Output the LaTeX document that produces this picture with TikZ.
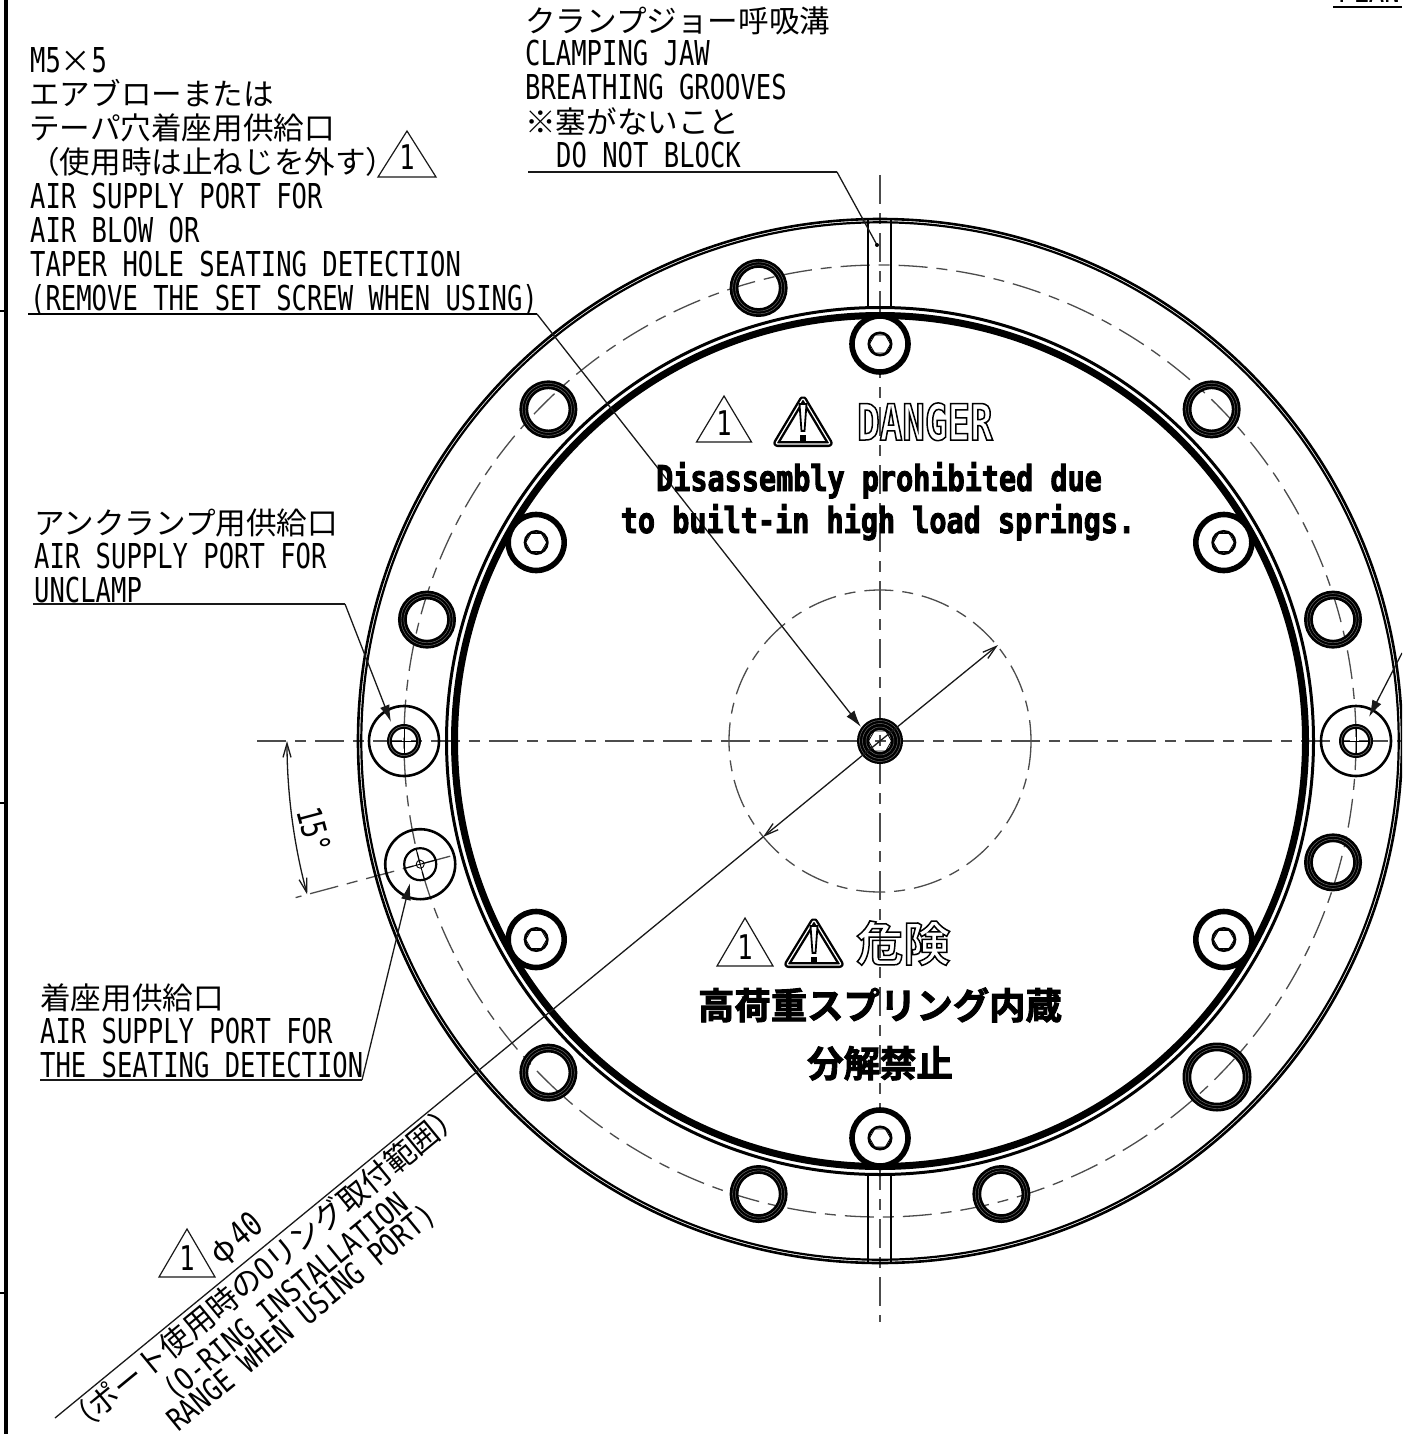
\documentclass[tikz,border=0pt]{standalone}
\usepackage{fontspec}
\usetikzlibrary{arrows.meta,calc,shapes.geometric}
\newfontfamily\latf[FakeStretch=0.745]{DejaVu Sans Mono}
\newfontfamily\latr[FakeStretch=0.82]{DejaVu Sans Mono}
\newfontfamily\latb[FakeStretch=0.8]{DejaVu Sans Mono Bold}
\newfontfamily\latc[FakeStretch=0.75]{DejaVu Sans Mono Bold}
\newfontfamily\jpf{Noto Sans CJK JP}
\newfontfamily\jpb{Noto Sans CJK JP Bold}
\newcommand{\LL}[1]{{\fontsize{34.3}{34}\latf #1}}
\newcommand{\LR}[1]{{\fontsize{31}{34}\latr #1}}
\newcommand{\JJ}[1]{{\fontsize{30.6}{34}\jpf #1}}
\newcommand{\outlinetxt}[1]{\special{pdf:code q 1 Tr 1.5 w}#1\special{pdf:code Q}}
\newcommand{\heavytxt}[1]{\special{pdf:code q 2 Tr 0.9 w}#1\special{pdf:code Q}}
\tikzset{
 txt/.style={inner sep=0pt,anchor=base west},
 thin line/.style={line width=1.3pt,black!90},
 cl/.style={line width=1.3pt,black!70,dash pattern=on 29pt off 9pt on 11pt off 9pt},
 leadarrow/.style={thin line,-{Latex[length=17pt,width=10pt]}},
 barb/.style={thin line,-{Straight Barb[length=14pt,width=8pt]}},
 dimarrow/.style={thin line,{Straight Barb[length=14pt,width=8pt]}-{Straight Barb[length=14pt,width=8pt]}},
 numtri/.style={line width=1.2pt,black!90,line join=miter},
}
\newcommand{\numtriangle}[5]{%
 \draw[numtri] (#2,#3) -- (#2+#4,#5) -- (#2-#4,#5) -- cycle;
 \node[inner sep=0pt,anchor=base] (#1) at (#2,#5-7) {\fontsize{34}{34}\latf 1};}
\newcommand{\warntriangle}[4]{%
 \draw[line width=6pt,black,line join=round,rounded corners=2pt] (#1,#2+5) -- (#1+#3-3.5,#4-3) -- (#1-#3+3.5,#4-3) -- cycle;
 \draw[line width=1.2pt,white,line join=round,rounded corners=2pt] (#1,#2+5) -- (#1+#3-3.5,#4-3) -- (#1-#3+3.5,#4-3) -- cycle;
 \draw[line width=1.8pt,black,fill=white] (#1-3.5,#2+11) -- (#1+3.5,#2+11) -- (#1+1.5,#2+38) -- (#1-1.5,#2+38) -- cycle;
 \fill[black] (#1-3,#2+42) rectangle (#1+3,#2+49);}
\newcommand{\ringhole}[2]{%
 \draw[black,line width=8.8pt] (#1) circle[radius=#2-4.4];
 \draw[black!55,line width=.45pt] (#1) circle[radius=#2-3];
 \draw[black!55,line width=.45pt] (#1) circle[radius=#2-5.8];}
\newcommand{\capscrew}[1]{%
 \draw[white,line width=1pt,fill=white] (#1) circle[radius=28];
 \draw[black,line width=5.6pt] (#1) circle[radius=28];
 \draw[black,line width=2.6pt] (#1) circle[radius=11.2];
 \node[regular polygon,regular polygon sides=6,draw=black,line width=.8pt,minimum size=21pt,inner sep=0pt] at (#1) {};}
\begin{document}
\begin{tikzpicture}[x=1pt,y=-1pt]
\useasboundingbox (0,0) rectangle (1402,1434);
\fill[white] (0,0) rectangle (1402,1434);
\coordinate (C) at (880,741);
\fill[black] (4,0) rectangle (8,1434);
\foreach \yy in {311,803,1293} \draw[line width=1.2pt] (0,\yy) -- (5,\yy);
\node[inner sep=0pt,anchor=base west] (viewtitle) at (1338,3) {\LL{PLAN}};
\draw[line width=1.6pt] (1333,7) -- (1402,7);
\begin{scope}
\clip (0,0) rectangle (1402,1434);
\draw[cl] (257,741) -- (1402,741);
\draw[cl] (880,175) -- (880,1322);
\draw[cl] (C) circle[radius=476];
\draw[cl] (C) circle[radius=151];
\draw[cl] ($(C)+(165:445)$) -- ($(C)+(165:605)$);
\draw[black,line width=2.6pt] (C) circle[radius=522];
\draw[black,line width=2.2pt] (C) circle[radius=518.7];
\draw[black,line width=3pt] (C) circle[radius=433.5];
\draw[black,line width=7pt] (C) circle[radius=425.5];
\draw[line width=2.1pt] (868,220) -- (868,306) (891,220) -- (891,306);
\draw[line width=2.1pt] (868,1176) -- (868,1262) (891,1176) -- (891,1262);
\foreach \a in {-105,-135,-165,-15,-45,15,75,105,135}
  {\ringhole{$(C)+(\a:469)$}{29}}
\ringhole{1217,1077}{34.5}
\foreach \a in {-90,-30,-150,30,150,90}
  {\capscrew{$(C)+(\a:397)$}}
\draw[black,line width=12pt] (C) circle[radius=17];
\foreach \r in {14,17.5,20.5} \draw[black!55,line width=.45pt] (C) circle[radius=\r];
\node[regular polygon,regular polygon sides=6,draw=black,line width=.8pt,minimum size=23pt,inner sep=0pt] (hexC) at (C) {};
\foreach \xx in {404,1356}{
 \draw[line width=2.6pt] (\xx,741) circle[radius=35];
 \draw[line width=4.8pt] (\xx,741) circle[radius=14.6];
 \draw[black!45,line width=.45pt] (\xx,741) circle[radius=14.6];
 \draw[line width=.9pt] (\xx-13,741) -- (\xx+13,741) (\xx,728) -- (\xx,754);
}
\coordinate (P) at ($(C)+(165:476)$);
\draw[line width=2.6pt] (P) circle[radius=35];
\draw[line width=2.2pt] (P) circle[radius=16];
\draw[line width=.9pt] (P) circle[radius=4];
\draw[line width=.9pt] ($(P)+(165:15)$) -- ($(P)+(165:-15)$) ($(P)+(75:15)$) -- ($(P)+(75:-15)$);
\coordinate (lm) at (537,314);
\draw[line width=2pt] (28,314) -- (lm);
\draw[leadarrow] (lm) -- (861,727);
\draw[thin line] (528,172) -- (837,172) coordinate (lb);
\draw[thin line] (lb) -- (877,245);
\fill (877,245) circle[radius=2];
\draw[thin line] (33,604) -- (345,604) coordinate (lu);
\draw[leadarrow] (lu) -- (391,722);
\draw[thin line] (40,1080) -- (362,1080) coordinate (ls);
\draw[leadarrow] (ls) -- (410,883);
\draw[leadarrow] (1402,653) -- (1369,717);
\coordinate (dE) at (998,645);
\coordinate (dF) at (55,1418);
\coordinate (dG) at (763,837);
\draw[barb] (C) -- (dE);
\draw[barb] (C) -- (dG);
\draw[thin line] (dG) -- (dF);
\draw[dimarrow] (287,741) arc[start angle=180,end angle=165,radius=593];
\end{scope}
\numtriangle{triA}{407}{131}{29}{177}
\numtriangle{triB}{724}{396}{27.5}{442}
\numtriangle{triC}{745}{918}{28}{966}
\numtriangle{triD}{187}{1229}{28}{1277}
\warntriangle{803}{393}{31}{447}
\warntriangle{814}{915}{31}{968}
\node[txt] (t1) at (30,73) {\LL{M5}\JJ{×}\LL{5}};
\node[txt] (t2) at (29,106) {\JJ{エアブローまたは}};
\node[txt] (t3) at (29,140) {\JJ{テーパ穴着座用供給口}};
\node[txt] (t4) at (29,174) {\JJ{（使用時は止ねじを外す）}};
\node[txt] (t5) at (30,208) {\LL{AIR SUPPLY PORT FOR}};
\node[txt] (t6) at (30,242) {\LL{AIR BLOW OR}};
\node[txt] (t7) at (30,276) {\LL{TAPER HOLE SEATING DETECTION}};
\node[txt] (t8) at (30,310) {\LL{(REMOVE THE SET SCREW WHEN USING)}};
\node[txt] (u1) at (525,33) {\JJ{クランプジョー呼吸溝}};
\node[txt] (u2) at (525,66) {\LL{CLAMPING JAW}};
\node[txt] (u3) at (525,100) {\LL{BREATHING GROOVES}};
\node[txt] (u4) at (525,134) {\JJ{※塞がないこと}};
\node[txt] (u5) at (556,168) {\LL{DO NOT BLOCK}};
\node[txt] (v1) at (34,534) {\JJ{アンクランプ用供給口}};
\node[txt] (v2) at (34,568) {\LL{AIR SUPPLY PORT FOR}};
\node[txt] (v3) at (34,602) {\LL{UNCLAMP}};
\node[txt] (w1) at (40,1009) {\JJ{着座用供給口}};
\node[txt] (w2) at (40,1043) {\LL{AIR SUPPLY PORT FOR}};
\node[txt] (w3) at (40,1077) {\LL{THE SEATING DETECTION}};
\node[txt,rotate=-75] (ang) at (296,811) {\fontsize{34}{34}\latf 15°};
\node[txt] (dng) at (857,440) {\fontsize{50}{50}\latc\outlinetxt{DANGER}};
\node[inner sep=0pt,anchor=base] (dis1) at (879,491) {\fontsize{35.6}{36}\latb\heavytxt{Disassembly prohibited due}};
\node[inner sep=0pt,anchor=base] (dis2) at (878,533) {\fontsize{35.6}{36}\latb\heavytxt{to built-in high load springs.}};
\node[txt] (kik) at (856,961) {\fontsize{47}{47}\jpb\outlinetxt{危険}};
\node[inner sep=0pt,anchor=base] (jp1) at (880,1019) {\fontsize{36.4}{36}\jpb\heavytxt{高荷重スプリング内蔵}};
\node[inner sep=0pt,anchor=base] (jp2) at (880,1077) {\fontsize{36.4}{36}\jpb\heavytxt{分解禁止}};
\node[txt,rotate=39.4] (r0) at (218,1268) {\makebox[30.6pt][c]{\JJ{φ}}\LL{40}};
\node[txt,rotate=39.4] (r1) at (76,1438) {\JJ{（ポート使用時の}\LR{O}\JJ{リング取付範囲）}};
\node[txt,rotate=39.4] (r2) at (174,1402) {\LR{(O-RING INSTALLATION}};
\node[txt,rotate=39.4] (r3) at (178,1433) {\LR{RANGE WHEN USING PORT)}};
\end{tikzpicture}
\end{document}
